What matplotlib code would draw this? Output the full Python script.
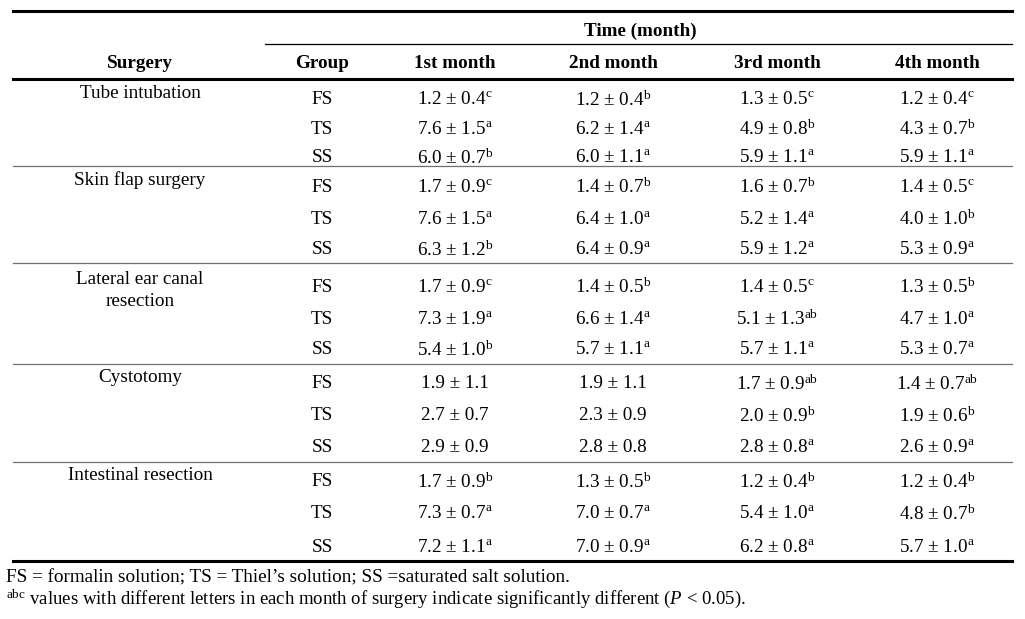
import matplotlib
matplotlib.use('Agg')
import matplotlib.pyplot as plt

plt.rcParams['font.family'] = ['Liberation Serif', 'DejaVu Serif']
plt.rcParams['mathtext.fontset'] = 'custom'
plt.rcParams['mathtext.rm'] = 'Liberation Serif'
plt.rcParams['mathtext.it'] = 'Liberation Serif:italic'
plt.rcParams['mathtext.bf'] = 'Liberation Serif:bold'

# table data
surgeries = ['Tube intubation', 'Skin flap surgery', 'Lateral ear canal\nresection',
             'Cystotomy', 'Intestinal resection']
groups = ['FS', 'TS', 'SS']
months = ['1st month', '2nd month', '3rd month', '4th month']

# one row per surgery x group, columns = months
means = [
    [1.2, 1.2, 1.3, 1.2], [7.6, 6.2, 4.9, 4.3], [6.0, 6.0, 5.9, 5.9],
    [1.7, 1.4, 1.6, 1.4], [7.6, 6.4, 5.2, 4.0], [6.3, 6.4, 5.9, 5.3],
    [1.7, 1.4, 1.4, 1.3], [7.3, 6.6, 5.1, 4.7], [5.4, 5.7, 5.7, 5.3],
    [1.9, 1.9, 1.7, 1.4], [2.7, 2.3, 2.0, 1.9], [2.9, 2.8, 2.8, 2.6],
    [1.7, 1.3, 1.2, 1.2], [7.3, 7.0, 5.4, 4.8], [7.2, 7.0, 6.2, 5.7],
]
sds = [
    [0.4, 0.4, 0.5, 0.4], [1.5, 1.4, 0.8, 0.7], [0.7, 1.1, 1.1, 1.1],
    [0.9, 0.7, 0.7, 0.5], [1.5, 1.0, 1.4, 1.0], [1.2, 0.9, 1.2, 0.9],
    [0.9, 0.5, 0.5, 0.5], [1.9, 1.4, 1.3, 1.0], [1.0, 1.1, 1.1, 0.7],
    [1.1, 1.1, 0.9, 0.7], [0.7, 0.9, 0.9, 0.6], [0.9, 0.8, 0.8, 0.9],
    [0.9, 0.5, 0.4, 0.4], [0.7, 0.7, 1.0, 0.7], [1.1, 0.9, 0.8, 1.0],
]
letters = [
    ['c', 'b', 'c', 'c'], ['a', 'a', 'b', 'b'], ['b', 'a', 'a', 'a'],
    ['c', 'b', 'b', 'c'], ['a', 'a', 'a', 'b'], ['b', 'a', 'a', 'a'],
    ['c', 'b', 'c', 'b'], ['a', 'a', 'ab', 'a'], ['b', 'a', 'a', 'a'],
    ['', '', 'ab', 'ab'], ['', '', 'b', 'b'], ['', '', 'a', 'a'],
    ['b', 'b', 'b', 'b'], ['a', 'a', 'a', 'b'], ['a', 'a', 'a', 'a'],
]

# layout in pixels
W, H = 1025, 619
fig = plt.figure(figsize=(W / 100, H / 100), dpi=100)
ax = fig.add_axes([0, 0, 1, 1])
ax.set_xlim(0, W)
ax.set_ylim(H, 0)
ax.axis('off')

fs = 13.8
x_surg, x_grp = 140, 322
x_month = [455, 613, 777, 937]
row_y = [100, 129, 158, 187, 219, 250, 287, 319, 350, 384, 416, 448, 482, 514, 547]
sep_y = [166, 263, 364, 462]

# rules
ax.plot([13, 1012], [11, 11], color='black', lw=2.2)
ax.plot([265, 1012], [44, 44], color='black', lw=0.9)
ax.plot([13, 1012], [79, 79], color='black', lw=2.2)
for y in sep_y:
    ax.plot([13, 1012], [y, y], color='#707070', lw=0.9)
ax.plot([13, 1012], [561, 561], color='black', lw=2.2)

# header
ax.text(640, 31, 'Time (month)', ha='center', va='center', fontsize=fs, fontweight='bold')
ax.text(x_surg, 63, 'Surgery', ha='center', va='center', fontsize=fs, fontweight='bold')
ax.text(x_grp, 63, 'Group', ha='center', va='center', fontsize=fs, fontweight='bold')
for x, m in zip(x_month, months):
    ax.text(x, 63, m, ha='center', va='center', fontsize=fs, fontweight='bold')

# body
for i, s in enumerate(surgeries):
    for k, line in enumerate(s.split('\n')):
        ax.text(x_surg, row_y[3 * i] - 7 + 22 * k, line, ha='center', va='center', fontsize=fs)
for r in range(len(means)):
    y = row_y[r]
    ax.text(x_grp, y, groups[r % 3], ha='center', va='center', fontsize=fs)
    for j, x in enumerate(x_month):
        txt = f'{means[r][j]:.1f} ± {sds[r][j]:.1f}'
        if letters[r][j]:
            txt += r'$^{\mathrm{' + letters[r][j] + '}}$'
        ax.text(x, y, txt, ha='center', va='center', fontsize=fs)

# footnotes
ax.text(6, 578, 'FS = formalin solution; TS = Thiel’s solution; SS =saturated salt solution.',
        ha='left', va='center', fontsize=fs)
ax.text(6, 599, r'$^{\mathrm{abc}}$ values with different letters in each month of surgery '
        r'indicate significantly different ($\mathit{P}$ < 0.05).',
        ha='left', va='center', fontsize=13.5)

fig.savefig('out.png', dpi=100, facecolor='white')
